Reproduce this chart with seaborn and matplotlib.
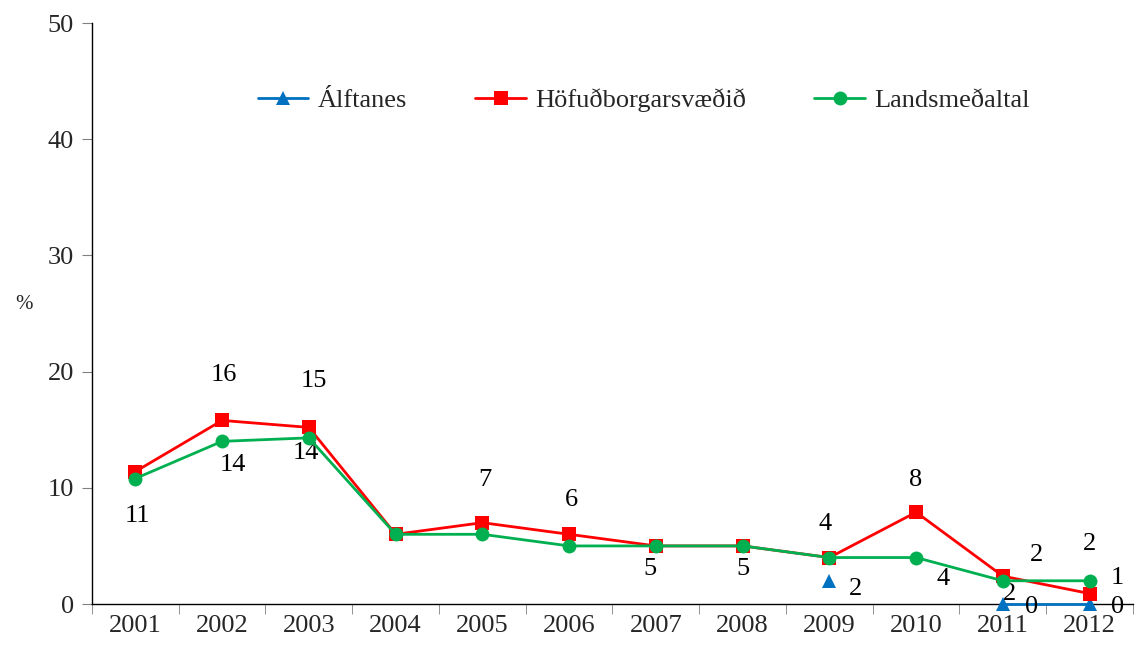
import numpy as np
import matplotlib
matplotlib.use("Agg")
import matplotlib.pyplot as plt
import seaborn as sns
import pandas as pd

# data
years = ['2001', '2002', '2003', '2004', '2005', '2006',
         '2007', '2008', '2009', '2010', '2011', '2012']
alftanes = [np.nan, np.nan, np.nan, np.nan, np.nan, np.nan,
            np.nan, np.nan, 2, np.nan, 0, 0]
hofudborg = [11.4, 15.8, 15.2, 6, 7, 6, 5, 5, 4, 7.9, 2.4, 0.9]
landsmedal = [10.8, 14.0, 14.3, 6, 6, 5, 5, 5, 4, 4, 2.0, 2.0]

names = ['Álftanes', 'Höfuðborgarsvæðið', 'Landsmeðaltal']
colors = ['#0070C0', '#FF0000', '#00B050']
markers = ['^', 's', 'o']

# which data labels are shown: (series, year index, dx, dy) offsets in pixels
shown_labels = [
    (1, 1, 2, 45), (1, 2, 5, 46), (1, 4, 3, 43), (1, 5, 2, 34),
    (1, 8, -4, 34), (1, 9, 0, 32), (1, 10, 34, 21), (1, 11, 28, 16),
    (2, 0, 2, -37), (2, 1, 11, -24), (2, 2, -3, -15), (2, 6, -6, -23),
    (2, 7, 0, -23), (2, 9, 27, -21), (2, 10, 7, -13), (2, 11, 0, 37),
    (0, 8, 26, -8), (0, 10, 29, -3), (0, 11, 28, -3),
]

series = [alftanes, hofudborg, landsmedal]

sns.set_style("white")
plt.rcParams['font.family'] = ['Liberation Serif', 'DejaVu Serif']
fs = 19

fig = plt.figure(figsize=(11.38, 6.49), dpi=100)
ax = fig.add_axes([0.0808, 0.0693, 0.9148, 0.8952])

pos = np.arange(len(years))
for k, vals in enumerate(series):
    df = pd.DataFrame({'x': pos, 'y': vals})
    # split on gaps so missing years break the line
    df['seg'] = df['y'].isna().cumsum()
    df = df.dropna()
    first = True
    for seg, part in df.groupby('seg'):
        sns.lineplot(data=part, x='x', y='y', ax=ax, color=colors[k],
                     marker=markers[k], markersize=10, markeredgewidth=0,
                     linewidth=2, label=names[k] if first else None,
                     legend=False, clip_on=False, zorder=3 + k)
        first = False

for k, i, dx, dy in shown_labels:
    v = series[k][i]
    ax.annotate(f"{int(round(v))}", (pos[i], v), xytext=(dx, dy),
                textcoords='offset pixels', ha='center', va='center',
                fontsize=fs, color='black', annotation_clip=False)

ax.set_xlim(-0.5, len(years) - 0.5)
ax.set_ylim(0, 50)
ax.set_yticks(range(0, 51, 10))
ax.set_xticks(pos)
ax.set_xticklabels(years)
ax.set_xticks(np.arange(-0.5, len(years), 1), minor=True)
ax.tick_params(axis='x', which='major', length=0, pad=8, labelsize=fs)
ax.tick_params(axis='x', which='minor', length=7, color='#808080',
               direction='out', bottom=True)
ax.tick_params(axis='y', length=7, color='#808080', direction='out',
               left=True, labelsize=fs, pad=6)
ax.set_xlabel('')
ax.set_ylabel('%', rotation=0, fontsize=15, labelpad=45)
ax.yaxis.set_label_coords(-0.065, 0.5)

for s in ['top', 'right']:
    ax.spines[s].set_visible(False)
for s in ['left', 'bottom']:
    ax.spines[s].set_color('black')
    ax.spines[s].set_linewidth(1)
    ax.spines[s].set_zorder(2)

ax.legend(loc='center', bbox_to_anchor=(0.53, 0.867), ncol=3, frameon=False,
          fontsize=fs, handlelength=1.9, handletextpad=0.35,
          columnspacing=2.6)

fig.savefig('out.png', dpi=100)
